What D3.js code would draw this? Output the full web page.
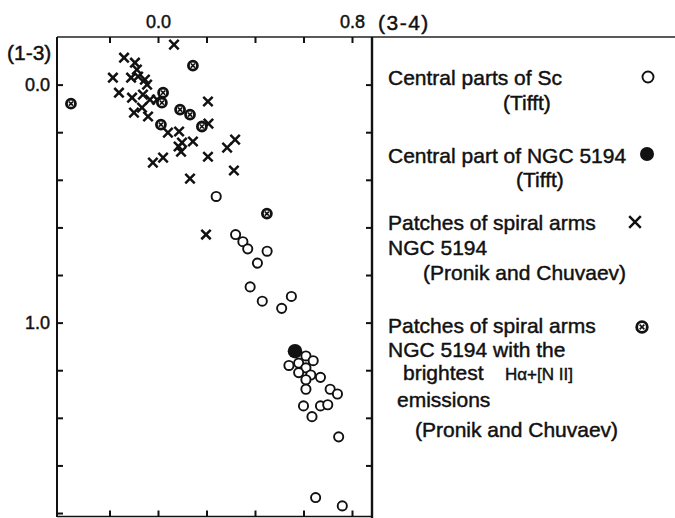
<!DOCTYPE html>
<html>
<head>
<meta charset="utf-8">
<script src="https://cdn.jsdelivr.net/npm/d3@7"></script>
<style>
  html, body { margin: 0; padding: 0; background: #fff; }
  svg { display: block; }
  text { font-family: "Liberation Sans", Arial, sans-serif; fill: #111; stroke: #111; stroke-width: 0.45px; }
</style>
</head>
<body>
<script>
// ---- data (colour index 3-4 on x, 1-3 on y) ----
const centralSc = [
  [0.24,0.47],[0.32,0.63],[0.35,0.66],[0.37,0.69],[0.45,0.70],[0.41,0.75],
  [0.38,0.85],[0.43,0.91],[0.51,0.94],[0.55,0.89],[0.61,1.14],[0.64,1.16],
  [0.54,1.18],[0.58,1.17],[0.61,1.19],[0.58,1.21],[0.63,1.22],[0.67,1.23],
  [0.61,1.24],[0.61,1.28],[0.71,1.28],[0.74,1.30],[0.60,1.35],[0.67,1.35],
  [0.70,1.345],[0.635,1.395],[0.745,1.48],[0.65,1.735],[0.76,1.77]
];
const centralNGC5194 = [[0.565,1.12]];
const spiralPatches = [
  [0.066,-0.168],[-0.14,-0.113],[-0.095,-0.092],[-0.087,-0.063],[-0.186,-0.029],
  [-0.111,-0.029],[-0.082,-0.034],[-0.054,-0.021],[-0.045,0.0],[-0.161,0.034],
  [-0.107,0.055],[-0.062,0.042],[-0.033,0.063],[-0.004,0.063],[-0.099,0.118],
  [-0.066,0.097],[-0.041,0.134],[0.206,0.071],[0.041,0.202],[0.087,0.197],
  [0.208,0.164],[0.099,0.244],[0.095,0.282],[0.085,0.26],[0.144,0.239],
  [-0.021,0.328],[0.021,0.307],[0.132,0.395],[0.206,0.303],[0.285,0.265],
  [0.318,0.231],[0.313,0.361],[0.198,0.63]
];
const brightPatches = [
  [-0.359,0.080],[0.144,-0.080],[0.021,0.034],[0.016,0.076],[0.091,0.105],
  [0.132,0.126],[0.012,0.168],[0.181,0.176],[0.449,0.542]
];
const xTicks = [-0.2, 0.0, 0.2, 0.4, 0.6, 0.8];
const xTickLabels = {"0": "0.0", "0.8": "0.8"};
const yTicks = [0.0, 0.2, 0.4, 0.6, 0.8, 1.0, 1.2, 1.4, 1.6, 1.8];
const yTickLabels = {"0": "0.0", "1": "1.0"};
const xTitle = "(3-4)";
const yTitle = "(1-3)";

const W = 675, H = 518;
const svg = d3.select("body").append("svg").attr("width", W).attr("height", H);

const x = d3.scaleLinear().domain([-0.4165, 0.8825]).range([57, 372]);
const y = d3.scaleLinear().domain([-0.2, 1.815]).range([37, 516.6]);

// frame lines
svg.append("line").attr("x1", 57).attr("x2", W).attr("y1", 37).attr("y2", 37)
  .attr("stroke", "#222").attr("stroke-width", 1.6);
svg.append("line").attr("x1", 57).attr("x2", 57).attr("y1", 37).attr("y2", 517)
  .attr("stroke", "#111").attr("stroke-width", 2);
svg.append("line").attr("x1", 372).attr("x2", 372).attr("y1", 37).attr("y2", H)
  .attr("stroke", "#111").attr("stroke-width", 2.4);
svg.append("line").attr("x1", 57).attr("x2", 372).attr("y1", 516.5).attr("y2", 516.5)
  .attr("stroke", "#111").attr("stroke-width", 1.6);

function styleAxis(g) {
  g.select(".domain").remove();
  g.selectAll(".tick line").attr("stroke", "#111").attr("stroke-width", 2);
  g.selectAll(".tick text").style("font-size", "18px").attr("fill", "#111")
    .style("font-family", "'Liberation Sans', Arial, sans-serif");
}

// top axis
svg.append("g").attr("transform", "translate(0,37)")
  .call(d3.axisTop(x).tickValues(xTicks).tickSizeInner(-6).tickSizeOuter(0).tickPadding(9)
    .tickFormat(d => xTickLabels[String(+d.toFixed(2))] || ""))
  .call(styleAxis);
// bottom axis (ticks only)
svg.append("g").attr("transform", "translate(0,516.5)")
  .call(d3.axisBottom(x).tickValues(xTicks).tickSizeInner(-6).tickSizeOuter(0).tickFormat(""))
  .call(styleAxis);
// left axis
svg.append("g").attr("transform", "translate(57,0)")
  .call(d3.axisLeft(y).tickValues(yTicks).tickSizeInner(-6).tickSizeOuter(0).tickPadding(7)
    .tickFormat(d => yTickLabels[String(+d.toFixed(2))] || ""))
  .call(styleAxis);
// right axis (ticks only)
svg.append("g").attr("transform", "translate(372,0)")
  .call(d3.axisRight(y).tickValues(yTicks.slice(0, 9)).tickSizeInner(-6).tickSizeOuter(0).tickFormat(""))
  .call(styleAxis);

// axis titles
svg.append("text").attr("x", 378).attr("y", 30).style("font-size", "21px")
  .style("letter-spacing", "1.5px").text(xTitle);
svg.append("text").attr("x", 7).attr("y", 60).style("font-size", "21px").text(yTitle);

// marker drawing helpers
function drawOpen(g, cx, cy, r) {
  g.append("circle").attr("cx", cx).attr("cy", cy).attr("r", r)
    .attr("fill", "#fff").attr("stroke", "#111").attr("stroke-width", 1.9);
}
function drawFilled(g, cx, cy, r) {
  g.append("circle").attr("cx", cx).attr("cy", cy).attr("r", r).attr("fill", "#111");
}
function drawCross(g, cx, cy, s, w) {
  g.append("path").attr("d", `M${cx-s},${cy-s}L${cx+s},${cy+s}M${cx-s},${cy+s}L${cx+s},${cy-s}`)
    .attr("stroke", "#111").attr("stroke-width", w).attr("fill", "none");
}
function drawOtimes(g, cx, cy, r) {
  g.append("circle").attr("cx", cx).attr("cy", cy).attr("r", r)
    .attr("fill", "#fff").attr("stroke", "#111").attr("stroke-width", 2.8);
  const s = r * 0.45;
  g.append("path").attr("d", `M${cx-s},${cy-s}L${cx+s},${cy+s}M${cx-s},${cy+s}L${cx+s},${cy-s}`)
    .attr("stroke", "#111").attr("stroke-width", 1.6);
}

const pts = svg.append("g");
spiralPatches.forEach(d => drawCross(pts, x(d[0]), y(d[1]), 4.7, 2.5));
centralSc.forEach(d => drawOpen(pts, x(d[0]), y(d[1]), 4.6));
centralNGC5194.forEach(d => drawFilled(pts, x(d[0]), y(d[1]), 7.3));
brightPatches.forEach(d => drawOtimes(pts, x(d[0]), y(d[1]), 4.5));

// legend
const leg = svg.append("g").style("font-size", "21px");
function t(xp, yp, s, size) {
  const el = leg.append("text").attr("x", xp).attr("y", yp).text(s);
  if (size) el.style("font-size", size);
  return el;
}
t(388, 85, "Central parts of Sc");
t(503, 110, "(Tifft)");
t(388, 163, "Central part of NGC 5194");
t(516, 187, "(Tifft)");
t(388, 230, "Patches of spiral arms");
t(388, 255, "NGC 5194");
t(423, 280, "(Pronik and Chuvaev)");
t(388, 333, "Patches of spiral arms");
t(388, 357, "NGC 5194 with the");
t(403, 380, "brightest");
t(505, 380, "H\u03b1+[N II]", "17px");
t(397, 407, "emissions");
t(415, 437, "(Pronik and Chuvaev)");

drawOpen(leg, 648, 77, 5.5);
drawFilled(leg, 647, 154, 7);
drawCross(leg, 635, 222, 5.8, 2.5);
drawOtimes(leg, 642, 327, 5.3);
</script>
</body>
</html>
